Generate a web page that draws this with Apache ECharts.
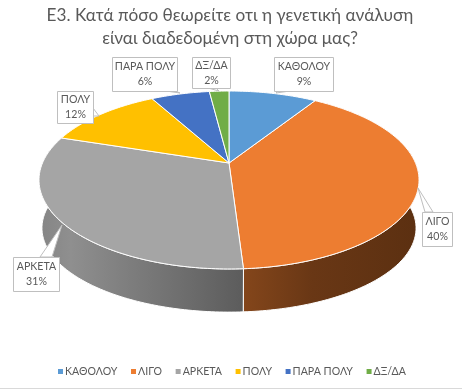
<!DOCTYPE html>
<html>
<head>
<meta charset="utf-8">
<style>html,body{margin:0;padding:0;background:#fff}#main{width:462px;height:389px}</style>
<script src="https://cdn.jsdelivr.net/npm/echarts@6/dist/echarts.min.js"></script>
</head>
<body>
<div id="main"></div>
<script>
var categories = ['ΚΑΘΟΛΟΥ', 'ΛΙΓΟ', 'ΑΡΚΕΤΑ', 'ΠΟΛΥ', 'ΠΑΡΑ ΠΟΛΥ', 'ΔΞ/ΔΑ']
var values = [9, 40, 31, 12, 6, 2]
var colors = ['#5b9bd5', '#ed7d31', '#a5a5a5', '#ffc000', '#4472c4', '#70ad47']

var FONT = 'Lato, "Noto Sans", sans-serif'
var TEXT_COLOR = '#595959'
var BOX_COLOR = '#bfbfbf'

// perspective of the tilted disc, top rim and bottom rim
var CX = 229
var TOP_RIM = {a: 186.5, b: 54.6, c: 163, k: -0.191}
var BOTTOM_RIM = {a: 183.6, b: 40.5, c: 212, k: -0.191}

// callout boxes: x, y, w, h and the wedge (two points on the box, tip)
var boxes = [
    {x: 274, y: 57, w: 59, h: 34, wedge: [[278, 91], [290, 91], [276, 93]]},
    {x: 422, y: 212, w: 30, h: 34, wedge: [[425, 212], [433, 212], [418, 188]]},
    {x: 13, y: 257, w: 46, h: 34, wedge: [[40, 257], [52, 257], [62, 225]]},
    {x: 57, y: 91, w: 36, h: 32, wedge: [[93, 108], [93, 116], [99, 116]]},
    {x: 112, y: 57, w: 65, h: 34, wedge: [[166, 91], [175, 91], [180, 93]]},
    {x: 192, y: 57, w: 38, h: 31, wedge: [[208, 88], [216, 88], [219, 91]]}
]

function project(deg, rim) {
    var t = deg * Math.PI / 180
    var u = Math.sin(t)
    var v = -Math.cos(t)
    var d = 1 + rim.k * v
    return [CX + rim.a * u / d, (rim.b * v + rim.c) / d]
}

function rimPoints(from, to, rim) {
    var pts = []
    var n = Math.max(2, Math.ceil(Math.abs(to - from)))
    for (var i = 0; i <= n; i++) {
        pts.push(project(from + (to - from) * i / n, rim))
    }
    return pts
}

function wallFill(index) {
    if (index === 1) {
        return new echarts.graphic.LinearGradient(243, 0, 416, 0, [
            {offset: 0, color: '#84461b'},
            {offset: 0.4, color: '#693715'},
            {offset: 1, color: '#5c3011'}
        ], true)
    }
    return new echarts.graphic.LinearGradient(40, 0, 243, 0, [
        {offset: 0, color: '#858585'},
        {offset: 0.15, color: '#8f8f8f'},
        {offset: 1, color: '#5c5c5c'}
    ], true)
}

function sliceStart(index) {
    var total = values.reduce(function (a, b) { return a + b }, 0)
    var sum = 0
    for (var i = 0; i < index; i++) sum += values[i]
    return sum / total * 360
}

function renderSlice(index) {
    var from = sliceStart(index)
    var to = from + values[index] / 100 * 360
    var children = []

    // only the front of the disc shows its side
    var wallFrom = Math.max(from, 80)
    var wallTo = Math.min(to, 280)
    if (wallTo > wallFrom) {
        var wall = rimPoints(wallFrom, wallTo, TOP_RIM)
            .concat(rimPoints(wallTo, wallFrom, BOTTOM_RIM))
        children.push({
            type: 'polygon',
            z2: 1,
            shape: {points: wall},
            style: {fill: wallFill(index), stroke: '#fff', lineWidth: 1}
        })
    }

    children.push({
        type: 'polygon',
        z2: 2,
        shape: {points: [[CX, TOP_RIM.c]].concat(rimPoints(from, to, TOP_RIM))},
        style: {fill: colors[index], stroke: '#fff', lineWidth: 1}
    })

    var box = boxes[index]
    children.push({
        type: 'polygon',
        z2: 10,
        shape: {points: box.wedge},
        style: {fill: '#fff', stroke: BOX_COLOR, lineWidth: 1}
    })
    children.push({
        type: 'rect',
        z2: 11,
        shape: {x: box.x + 0.5, y: box.y + 0.5, width: box.w, height: box.h},
        style: {fill: '#fff', stroke: BOX_COLOR, lineWidth: 1}
    })
    children.push({
        type: 'text',
        z2: 12,
        style: {
            x: box.x + box.w / 2 + 0.5,
            y: box.y + box.h / 2 + 0.5,
            text: categories[index] + '\n' + values[index] + '%',
            align: 'center',
            verticalAlign: 'middle',
            lineHeight: 15,
            fill: TEXT_COLOR,
            font: '10.6px ' + FONT
        }
    })
    return {type: 'group', children: children}
}

var myChart = echarts.init(document.getElementById('main'))
myChart.setOption({
    backgroundColor: '#fff',
    animation: false,
    title: {
        text: 'Ε3. Κατά πόσο θεωρείτε οτι η γενετική ανάλυση\nείναι διαδεδομένη στη χώρα μας?',
        left: 225,
        top: -1,
        textAlign: 'center',
        textStyle: {fontFamily: FONT, fontSize: 17.2, fontWeight: 'normal', color: TEXT_COLOR, lineHeight: 23}
    },
    legend: {
        data: categories,
        left: 53,
        top: 361,
        icon: 'rect',
        itemWidth: 5,
        itemHeight: 5,
        itemGap: 13.6,
        textStyle: {fontFamily: FONT, fontSize: 10.6, color: TEXT_COLOR, padding: [0, 0, 0, -3]}
    },
    graphic: [{
        type: 'line',
        silent: true,
        shape: {x1: 0, y1: 388.5, x2: 462, y2: 388.5},
        style: {stroke: '#d9d9d9', lineWidth: 1}
    }],
    series: categories.map(function (name, index) {
        return {
            type: 'custom',
            name: name,
            coordinateSystem: 'none',
            silent: true,
            z: index === 1 || index === 2 ? 2 : 3,
            itemStyle: {color: colors[index]},
            data: [values[index]],
            renderItem: function () { return renderSlice(index) }
        }
    })
})
</script>
</body>
</html>
